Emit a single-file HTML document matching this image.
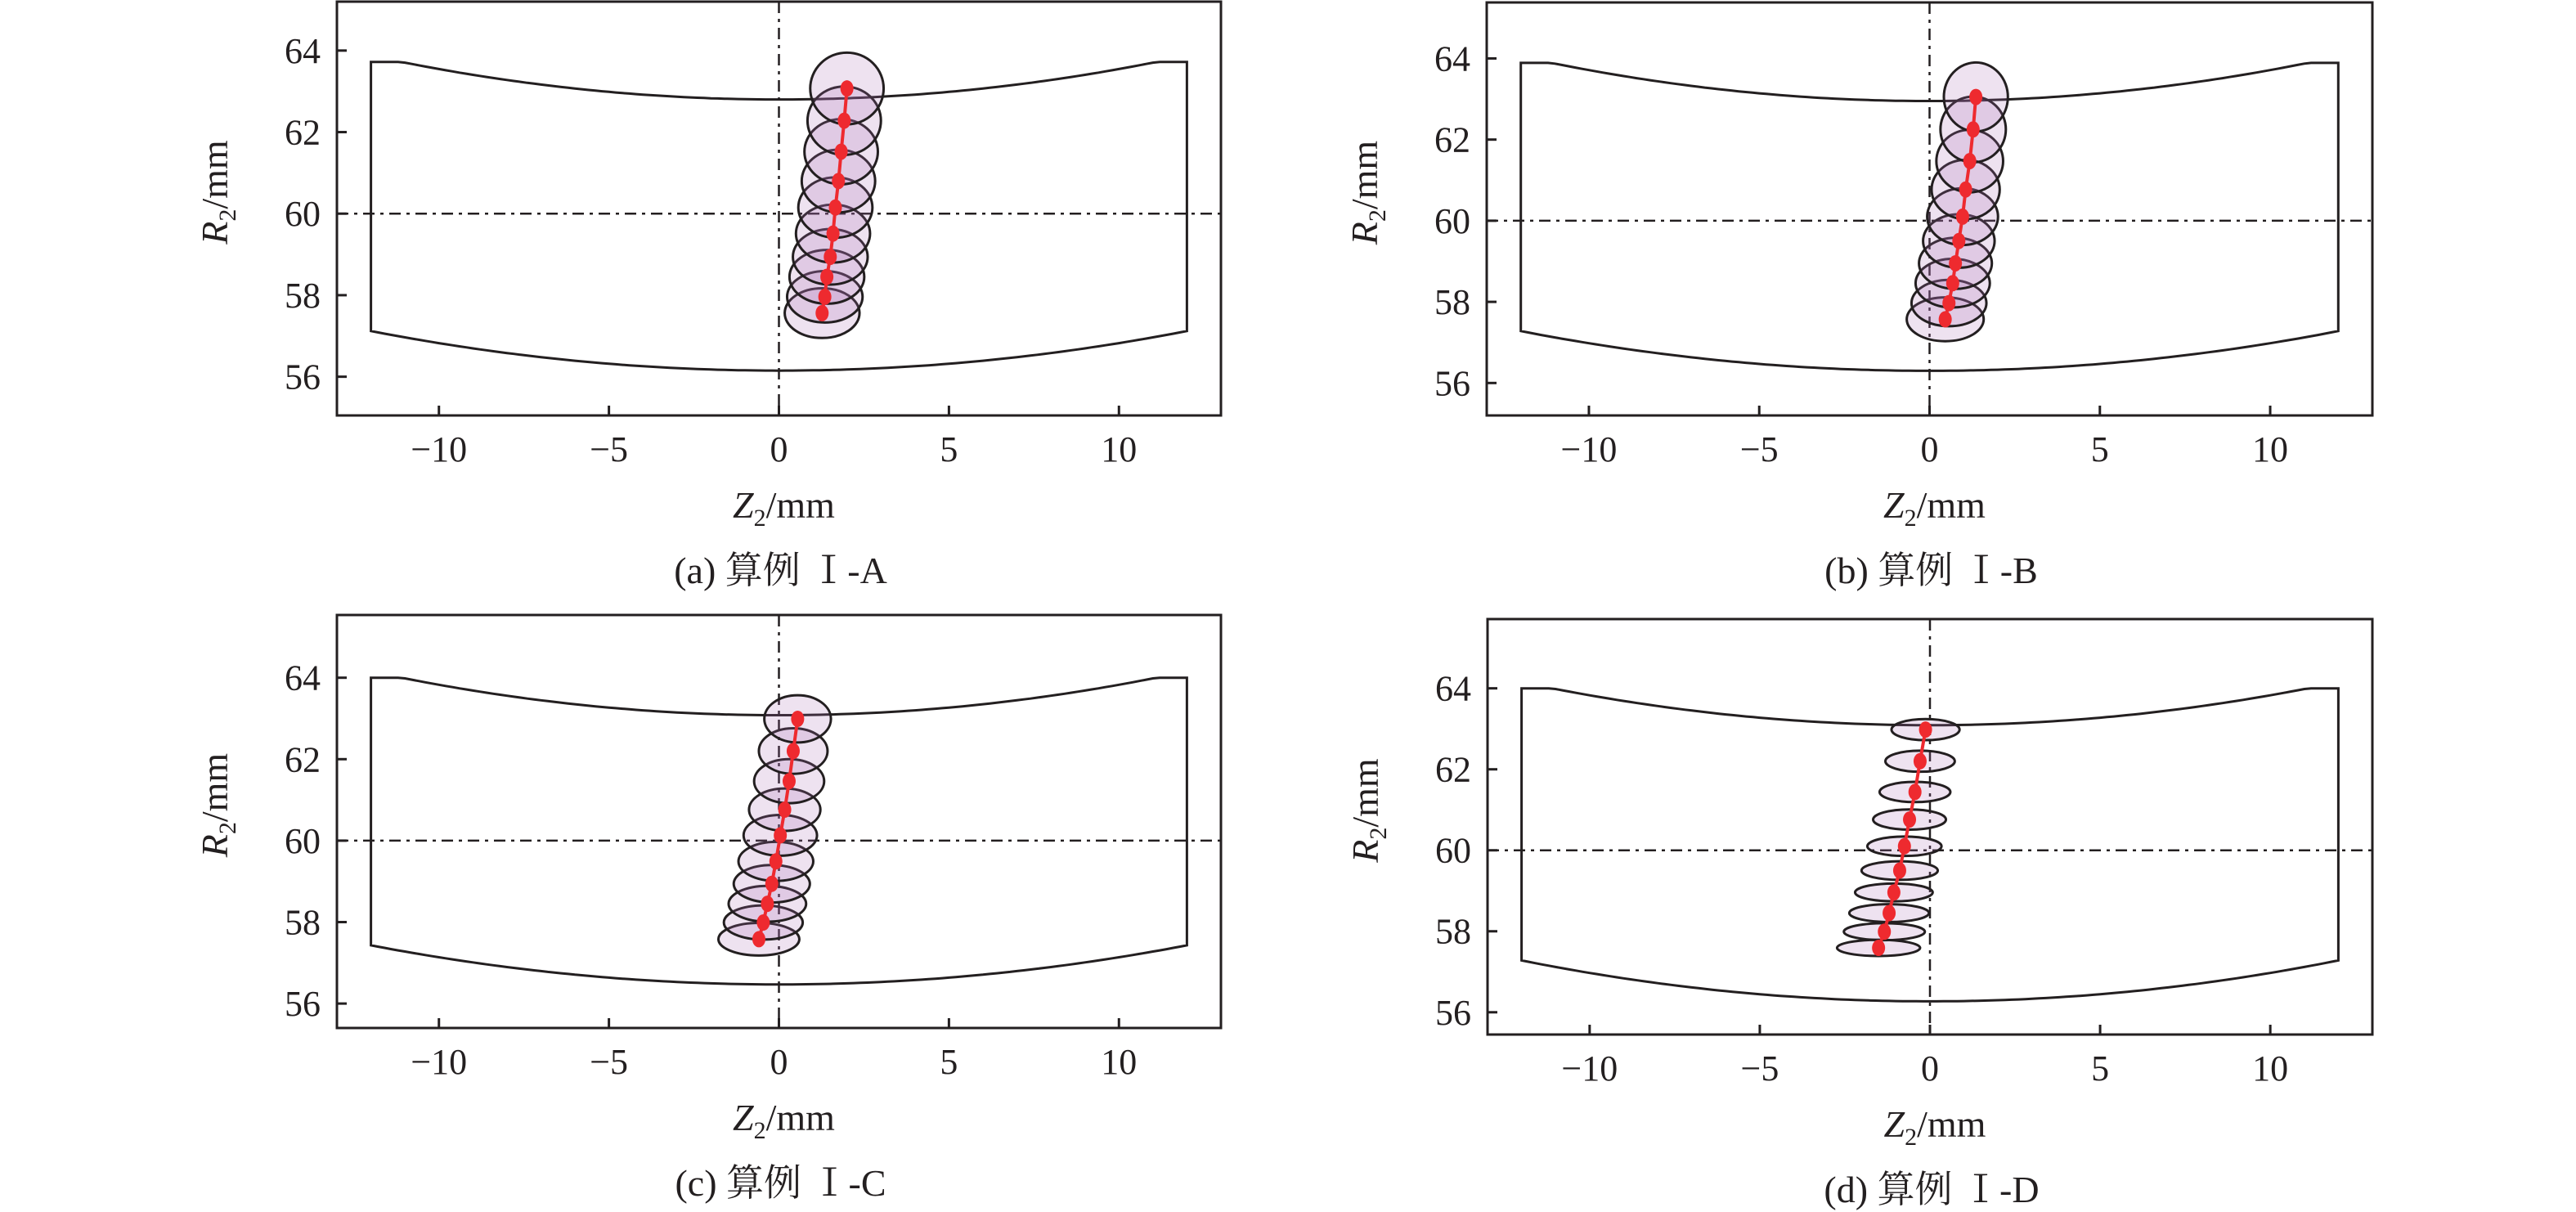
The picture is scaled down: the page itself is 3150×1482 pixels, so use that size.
<!DOCTYPE html>
<html><head><meta charset="utf-8">
<style>
html,body{margin:0;padding:0;background:#fff;}
svg{display:block;}
text{font-family:"Liberation Serif","Noto Serif CJK SC",serif;fill:#231f20;}
</style></head>
<body>
<svg id="fig" width="3150" height="1482" viewBox="0 0 3150 1482" xmlns="http://www.w3.org/2000/svg"></svg>
<script>
// ---- data ----
const xTicks = [-10, -5, 0, 5, 10];
const xTickLabels = ["\u221210", "\u22125", "0", "5", "10"];
const yTicks = [56, 58, 60, 62, 64];
const yTickLabels = ["56", "58", "60", "62", "64"];
const captions = ["(a) 算例 \u2160-A", "(b) 算例 \u2160-B", "(c) 算例 \u2160-C", "(d) 算例 \u2160-D"];

const aZ  = [2.00, 1.92, 1.83, 1.75, 1.66, 1.59, 1.51, 1.41, 1.35, 1.27];
const aR  = [63.07, 62.28, 61.52, 60.80, 60.15, 59.51, 58.94, 58.45, 57.96, 57.56];
const aRx = [1.08, 1.08, 1.08, 1.08, 1.09, 1.09, 1.10, 1.10, 1.11, 1.10];
const aRy = [0.88, 0.84, 0.80, 0.77, 0.74, 0.71, 0.68, 0.66, 0.63, 0.61];

const bZ  = [1.36, 1.28, 1.18, 1.06, 0.97, 0.86, 0.76, 0.68, 0.57, 0.46];
const bR  = [63.05, 62.25, 61.47, 60.77, 60.10, 59.50, 58.95, 58.46, 57.97, 57.57];
const bRx = [0.94, 0.96, 0.98, 1.00, 1.04, 1.05, 1.07, 1.09, 1.10, 1.13];
const bRy = [0.85, 0.81, 0.77, 0.73, 0.70, 0.66, 0.63, 0.60, 0.57, 0.54];

const cZ  = [0.55, 0.42, 0.30, 0.17, 0.04, -0.09, -0.21, -0.34, -0.46, -0.59];
const cR  = [62.99, 62.20, 61.46, 60.76, 60.13, 59.49, 58.94, 58.45, 57.99, 57.58];
const cRx = [0.98, 1.01, 1.03, 1.05, 1.08, 1.10, 1.12, 1.14, 1.16, 1.19];
const cRy = [0.58, 0.56, 0.54, 0.52, 0.50, 0.48, 0.46, 0.44, 0.42, 0.40];

const dZ  = [-0.13, -0.29, -0.44, -0.60, -0.75, -0.89, -1.06, -1.20, -1.34, -1.51];
const dR  = [62.98, 62.20, 61.44, 60.76, 60.10, 59.50, 58.96, 58.45, 57.99, 57.59];
const dRx = [1.00, 1.02, 1.04, 1.07, 1.09, 1.12, 1.14, 1.17, 1.19, 1.22];
const dRy = [0.26, 0.26, 0.25, 0.25, 0.24, 0.23, 0.22, 0.22, 0.21, 0.20];

// housing profile: [top flat R, top min R, bottom corner R, bottom min R]
const housingA = [63.72, 62.80, 57.12, 56.15];
const housingB = [63.89, 62.95, 57.28, 56.30];
const housingC = [64.00, 63.08, 57.43, 56.47];
const housingD = [64.00, 63.09, 57.28, 56.27];
const housingHalfWidth = 12;
const housingFlatStart = 11.1;

// ---- layout ----
const NS = "http://www.w3.org/2000/svg";
const svg = document.getElementById("fig");
function mk(tag, attrs, parent) {
  const e = document.createElementNS(NS, tag);
  for (const k in attrs) e.setAttribute(k, attrs[k]);
  (parent || svg).appendChild(e);
  return e;
}
const layouts = [
  {key:"a", L:412, R:1493, T:2, B:508, xmin:-13, xmax:13, ymin:55.05, ymax:65.2, Z:aZ, Rv:aR, Rx:aRx, Ry:aRy, H:housingA},
  {key:"b", L:1818, R:2901, T:3, B:508, xmin:-13, xmax:13, ymin:55.2, ymax:65.38, Z:bZ, Rv:bR, Rx:bRx, Ry:bRy, H:housingB},
  {key:"c", L:412, R:1493, T:752, B:1257, xmin:-13, xmax:13, ymin:55.4, ymax:65.54, Z:cZ, Rv:cR, Rx:cRx, Ry:cRy, H:housingC},
  {key:"d", L:1819, R:2901, T:757, B:1265, xmin:-13, xmax:13, ymin:55.45, ymax:65.71, Z:dZ, Rv:dR, Rx:dRx, Ry:dRy, H:housingD}
];

layouts.forEach((p, pi) => {
  const g = mk("g", {});
  
  
  const sx = v => p.L + (v - p.xmin) / (p.xmax - p.xmin) * (p.R - p.L);
  const sy = v => p.B - (v - p.ymin) / (p.ymax - p.ymin) * (p.B - p.T);
  const kx = (p.R - p.L) / (p.xmax - p.xmin);
  const ky = (p.B - p.T) / (p.ymax - p.ymin);

  const H = p.H;
  let pts = [];
  const n = 120;
  for (let i = 0; i <= n; i++) {
    const x = -housingHalfWidth + 2 * housingHalfWidth * i / n;
    let y;
    if (Math.abs(x) >= housingFlatStart) y = H[0];
    else y = H[1] + (H[0] - H[1]) * Math.pow(x / housingFlatStart, 2);
    pts.push(sx(x).toFixed(1) + "," + sy(y).toFixed(1));
  }
  for (let i = n; i >= 0; i--) {
    const x = -housingHalfWidth + 2 * housingHalfWidth * i / n;
    const y = H[3] + (H[2] - H[3]) * Math.pow(x / housingHalfWidth, 2);
    pts.push(sx(x).toFixed(1) + "," + sy(y).toFixed(1));
  }
  const hous = mk("polygon", {points: pts.join(" "), fill: "none", stroke: "#231f20", "stroke-width": 3, "stroke-linejoin": "miter"}, g);
  
  

  const vl = mk("line", {x1: sx(0), y1: p.T, x2: sx(0), y2: p.B, stroke: "#231f20", "stroke-width": 2.5, "stroke-dasharray": "14 7 4 7"}, g);
  
  
  const hl = mk("line", {x1: p.L, y1: sy(60), x2: p.R, y2: sy(60), stroke: "#231f20", "stroke-width": 2.5, "stroke-dasharray": "14 7 4 7"}, g);
  
  

  for (let i = p.Z.length - 1; i >= 0; i--) {
    const el = mk("ellipse", {cx: sx(p.Z[i]), cy: sy(p.Rv[i]), rx: p.Rx[i] * kx, ry: p.Ry[i] * ky,
      fill: "rgba(170,110,180,0.2)", stroke: "#231f20", "stroke-width": 3}, g);
    
    
  }
  const lp = p.Z.map((z, i) => sx(z).toFixed(1) + "," + sy(p.Rv[i]).toFixed(1)).join(" ");
  const tl = mk("polyline", {points: lp, fill: "none", stroke: "#ee2a2f", "stroke-width": 4}, g);
  
  
  for (let i = 0; i < p.Z.length; i++) {
    const d = mk("ellipse", {cx: sx(p.Z[i]), cy: sy(p.Rv[i]), rx: 8, ry: 10, fill: "#ee2a2f"}, g);
    
    
  }

  const fr = mk("rect", {x: p.L, y: p.T, width: p.R - p.L, height: p.B - p.T, fill: "none", stroke: "#231f20", "stroke-width": 3}, g);
  
  

  xTicks.forEach((t, i) => {
    const tk = mk("line", {x1: sx(t), y1: p.B, x2: sx(t), y2: p.B - 12, stroke: "#231f20", "stroke-width": 3}, g);
    
    
    const tx = mk("text", {x: sx(t), y: p.B + 56, "font-size": 44, "text-anchor": "middle"}, g);
    tx.textContent = xTickLabels[i];
    
    
  });
  yTicks.forEach((t, i) => {
    const tk = mk("line", {x1: p.L, y1: sy(t), x2: p.L + 12, y2: sy(t), stroke: "#231f20", "stroke-width": 3}, g);
    
    
    const tx = mk("text", {x: p.L - 20, y: sy(t) + 15, "font-size": 44, "text-anchor": "end"}, g);
    tx.textContent = yTickLabels[i];
    
    
  });

  const xt = mk("text", {x: (p.L + p.R) / 2 + 6, y: p.B + 125, "font-size": 46, "text-anchor": "middle"}, g);
  xt.innerHTML = '<tspan font-style="italic">Z</tspan><tspan font-size="30" dy="10">2</tspan><tspan dy="-10">/mm</tspan>';
  
  
  const ycx = p.L - 134, ycy = (p.T + p.B) / 2 - 20;
  const yt = mk("text", {x: ycx, y: ycy, "font-size": 46, "text-anchor": "middle", transform: "rotate(-90 " + ycx + " " + ycy + ")"}, g);
  yt.innerHTML = '<tspan font-style="italic">R</tspan><tspan font-size="30" dy="10">2</tspan><tspan dy="-10">/mm</tspan>';
  
  

  const cp = mk("text", {x: (p.L + p.R) / 2 + 2, y: p.B + 205, "font-size": 46, "text-anchor": "middle"}, g);
  cp.textContent = captions[pi];
  
  
});
</script>
</body></html>
